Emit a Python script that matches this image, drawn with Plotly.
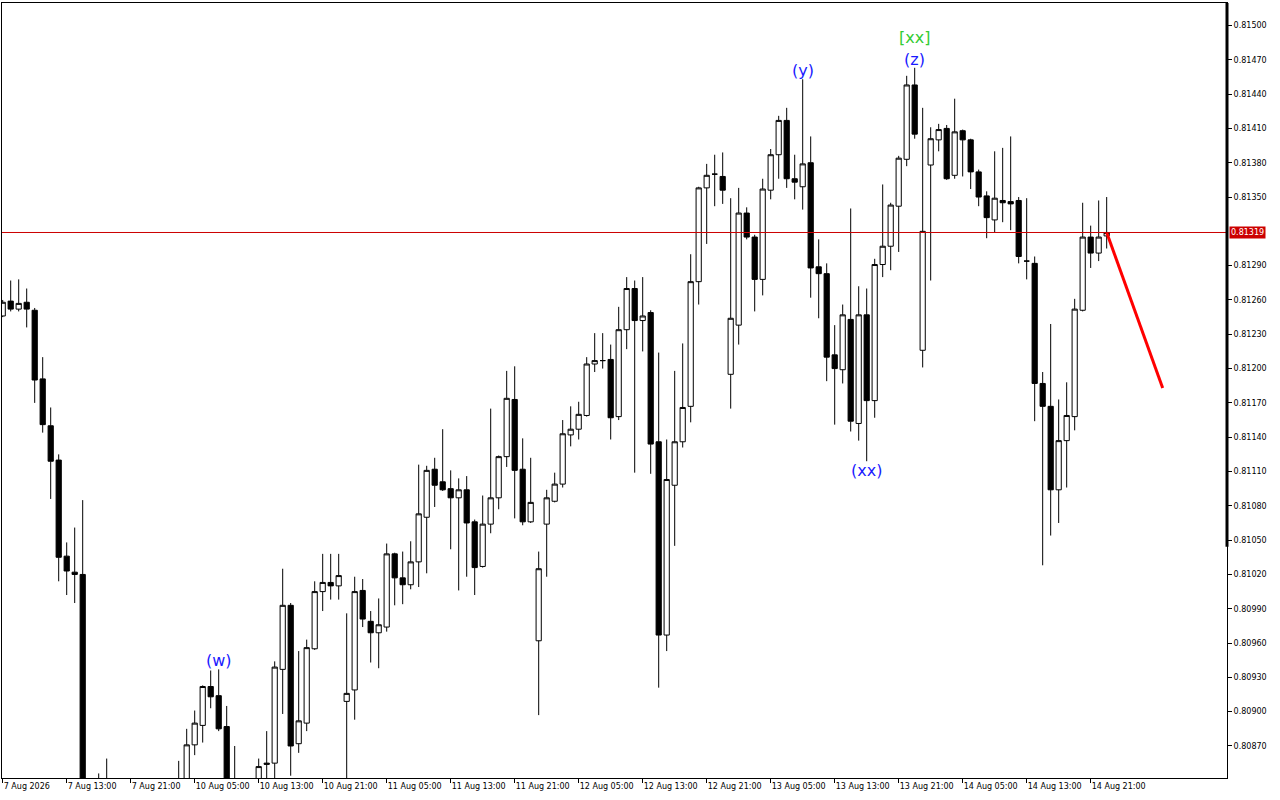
import plotly.graph_objects as go

# ---- data (H1 bars, 7 Aug 2026 05:00 .. 14 Aug 2026 23:00) ----
opens = [0.81246,0.81259,0.81252,0.81258,0.81251,0.81191,0.81150,0.81120,0.81036,0.81022,
         0.81020,0.80815,0.80805,0.80825,0.80820,0.80812,0.80818,0.80815,0.80822,0.80826,
         0.80815,0.80820,0.80825,0.80830,0.80871,0.80888,0.80922,0.80914,0.80887,0.80830,
         0.80825,0.80815,0.80825,0.80855,0.80855,0.80937,0.80993,0.80872,0.80890,0.80955,
         0.81005,0.81013,0.81010,0.80909,0.80919,0.81006,0.80979,0.80969,0.80974,0.81038,
         0.81017,0.81011,0.81031,0.81070,0.81112,0.81101,0.81095,0.81087,0.81094,0.81066,
         0.81027,0.81064,0.81087,0.81123,0.81173,0.81112,0.81066,0.80962,0.81064,0.81084,
         0.81099,0.81142,0.81147,0.81159,0.81204,0.81207,0.81208,0.81158,0.81234,0.81270,
         0.81242,0.81249,0.81136,0.80967,0.81098,0.81136,0.81167,0.81276,0.81358,0.81370,
         0.81368,0.81195,0.81238,0.81336,0.81315,0.81278,0.81356,0.81387,0.81417,0.81366,
         0.81359,0.81380,0.81289,0.81283,0.81212,0.81199,0.81243,0.81152,0.81247,0.81172,
         0.81291,0.81307,0.81342,0.81383,0.81448,0.81216,0.81378,0.81400,0.81410,0.81369,
         0.81408,0.81400,0.81372,0.81351,0.81330,0.81347,0.81346,0.81347,0.81294,0.81292,
         0.81187,0.81167,0.81094,0.81137,0.81158,0.81251,0.81315,0.81301,0.81316]
highs = [0.81260,0.81277,0.81278,0.81270,0.81253,0.81210,0.81166,0.81125,0.81048,0.81061,
         0.81085,0.80835,0.80846,0.80859,0.80838,0.80830,0.80836,0.80832,0.80838,0.80836,
         0.80835,0.80839,0.80857,0.80885,0.80901,0.80923,0.80936,0.80937,0.80905,0.80870,
         0.80838,0.80835,0.80859,0.80883,0.80944,0.81025,0.80995,0.80953,0.80963,0.81014,
         0.81038,0.81038,0.81038,0.80986,0.81018,0.81016,0.80988,0.80999,0.81047,0.81039,
         0.81040,0.81049,0.81116,0.81115,0.81122,0.81147,0.81111,0.81104,0.81106,0.81068,
         0.81089,0.81165,0.81124,0.81198,0.81202,0.81139,0.81122,0.81040,0.81094,0.81109,
         0.81155,0.81167,0.81171,0.81210,0.81231,0.81231,0.81221,0.81254,0.81280,0.81277,
         0.81280,0.81251,0.81214,0.81138,0.81198,0.81222,0.81300,0.81359,0.81379,0.81387,
         0.81389,0.81349,0.81358,0.81341,0.81317,0.81366,0.81392,0.81421,0.81428,0.81387,
         0.81453,0.81403,0.81313,0.81292,0.81238,0.81256,0.81340,0.81272,0.81270,0.81296,
         0.81361,0.81345,0.81386,0.81456,0.81463,0.81428,0.81411,0.81414,0.81413,0.81436,
         0.81409,0.81401,0.81374,0.81355,0.81390,0.81393,0.81403,0.81350,0.81349,0.81298,
         0.81197,0.81239,0.81173,0.81188,0.81261,0.81345,0.81325,0.81347,0.81350]
lows = [0.81245,0.81250,0.81250,0.81236,0.81170,0.81144,0.81086,0.81014,0.81002,0.80995,
        0.80800,0.80790,0.80795,0.80810,0.80805,0.80800,0.80806,0.80798,0.80810,0.80805,
        0.80800,0.80808,0.80800,0.80820,0.80862,0.80873,0.80903,0.80883,0.80815,0.80805,
        0.80800,0.80805,0.80815,0.80830,0.80835,0.80898,0.80844,0.80864,0.80883,0.80954,
        0.80988,0.80998,0.80998,0.80835,0.80893,0.80974,0.80943,0.80938,0.80970,0.80993,
        0.80994,0.81007,0.81009,0.81021,0.81079,0.81093,0.81042,0.81006,0.81018,0.81002,
        0.81026,0.81056,0.81077,0.81114,0.81069,0.81063,0.81065,0.80897,0.81018,0.81083,
        0.81096,0.81132,0.81138,0.81158,0.81197,0.81200,0.81138,0.81155,0.81217,0.81109,
        0.81215,0.81108,0.80921,0.80953,0.81045,0.81131,0.81153,0.81256,0.81309,0.81342,
        0.81344,0.81165,0.81221,0.81313,0.81250,0.81264,0.81348,0.81366,0.81358,0.81348,
        0.81339,0.81262,0.81244,0.81189,0.81151,0.81187,0.81145,0.81137,0.81119,0.81157,
        0.81280,0.81286,0.81302,0.81377,0.81401,0.81201,0.81277,0.81390,0.81365,0.81366,
        0.81368,0.81357,0.81342,0.81314,0.81319,0.81328,0.81321,0.81292,0.81278,0.81154,
        0.81028,0.81054,0.81065,0.81096,0.81146,0.81250,0.81288,0.81294,0.81305]
closes = [0.81258,0.81252,0.81257,0.81252,0.81190,0.81151,0.81119,0.81035,0.81023,0.81020,
          0.80815,0.80805,0.80825,0.80820,0.80812,0.80818,0.80815,0.80822,0.80826,0.80815,
          0.80820,0.80825,0.80830,0.80871,0.80890,0.80922,0.80913,0.80885,0.80830,0.80825,
          0.80815,0.80825,0.80852,0.80854,0.80939,0.80993,0.80870,0.80892,0.80956,0.81005,
          0.81013,0.81010,0.81019,0.80916,0.81005,0.80981,0.80969,0.80976,0.81038,0.81017,
          0.81011,0.81031,0.81073,0.81111,0.81098,0.81094,0.81087,0.81094,0.81065,0.81026,
          0.81064,0.81087,0.81123,0.81174,0.81111,0.81066,0.81083,0.81025,0.81087,0.81099,
          0.81143,0.81147,0.81160,0.81204,0.81207,0.81207,0.81157,0.81234,0.81270,0.81242,
          0.81246,0.81134,0.80967,0.81103,0.81136,0.81166,0.81276,0.81358,0.81369,0.81370,
          0.81356,0.81244,0.81336,0.81315,0.81278,0.81357,0.81387,0.81417,0.81366,0.81363,
          0.81379,0.81288,0.81283,0.81210,0.81200,0.81247,0.81154,0.81247,0.81172,0.81291,
          0.81307,0.81343,0.81384,0.81448,0.81405,0.81320,0.81401,0.81409,0.81366,0.81407,
          0.81400,0.81372,0.81350,0.81332,0.81349,0.81345,0.81344,0.81298,0.81294,0.81187,
          0.81167,0.81094,0.81137,0.81159,0.81252,0.81315,0.81301,0.81315,0.81319]
bars = list(range(len(closes)))

time_tick_bars = [0, 8, 16, 24, 32, 40, 48, 56, 64, 72, 80, 88, 96, 104, 112, 120, 128, 136]
time_tick_labels = ["7 Aug 2026", "7 Aug 13:00", "7 Aug 21:00", "10 Aug 05:00", "10 Aug 13:00",
                    "10 Aug 21:00", "11 Aug 05:00", "11 Aug 13:00", "11 Aug 21:00", "12 Aug 05:00",
                    "12 Aug 13:00", "12 Aug 21:00", "13 Aug 05:00", "13 Aug 13:00", "13 Aug 21:00",
                    "14 Aug 05:00", "14 Aug 13:00", "14 Aug 21:00"]
price_ticks = [0.80870, 0.80900, 0.80930, 0.80960, 0.80990, 0.81020, 0.81050, 0.81080,
               0.81110, 0.81140, 0.81170, 0.81200, 0.81230, 0.81260, 0.81290,
               0.81350, 0.81380, 0.81410, 0.81440, 0.81470, 0.81500]
current_price = 0.81319

wave_labels = ["(w)", "(y)", "(xx)", "(z)", "[xx]"]
wave_bars = [27, 100, 108, 114, 114]
wave_at_high = [True, True, False, True, True]
wave_colors = ["#1A1AFF", "#1A1AFF", "#1A1AFF", "#1A1AFF", "#33CC33"]

forecast_bars = [138, 145]
forecast_prices = [0.81319, 0.81183]

# ---- figure ----
fig = go.Figure()
fig.add_trace(go.Candlestick(
    x=bars, open=opens, high=highs, low=lows, close=closes,
    increasing=dict(line=dict(color="black", width=1), fillcolor="white"),
    decreasing=dict(line=dict(color="black", width=1), fillcolor="black"),
    whiskerwidth=0, showlegend=False, hoverinfo="skip"))
fig.add_trace(go.Scatter(x=forecast_bars, y=forecast_prices, mode="lines",
                         line=dict(color="#FF0000", width=3), showlegend=False,
                         hoverinfo="skip"))

# current price line
fig.add_shape(type="line", xref="paper", x0=0, x1=1, yref="y",
              y0=current_price, y1=current_price,
              line=dict(color="#CC0000", width=1))
# thick segment of the right axis
fig.add_shape(type="line", xref="paper", x0=1, x1=1, yref="paper", y0=0.2985, y1=1,
              line=dict(color="black", width=3))

annotations = []
annotations.append(dict(xref="paper", x=1, xanchor="left", xshift=2, yref="y",
                        y=current_price, yanchor="middle", text="0.81319",
                        showarrow=False, bgcolor="#CC0000", borderpad=1,
                        font=dict(family="DejaVu Sans", size=8, color="white")))
for lab, b, at_high, col in zip(wave_labels, wave_bars, wave_at_high, wave_colors):
    if at_high:
        shift = 19 if lab.startswith("[") else -3
        annotations.append(dict(x=b, y=highs[b], text=lab, showarrow=False,
                                yanchor="bottom", yshift=shift,
                                font=dict(family="DejaVu Sans", size=16, color=col)))
    else:
        annotations.append(dict(x=b, y=lows[b], text=lab, showarrow=False,
                                yanchor="top", yshift=2,
                                font=dict(family="DejaVu Sans", size=16, color=col)))

fig.update_layout(
    width=1280, height=800,
    margin=dict(l=2, r=53, t=3, b=22),
    paper_bgcolor="white", plot_bgcolor="white",
    boxgap=0.35, boxgroupgap=0,
    annotations=annotations,
    font=dict(family="DejaVu Sans", size=8, color="black"),
    xaxis=dict(range=[-0.0875, 153.04], tickmode="array",
               tickvals=time_tick_bars, ticktext=time_tick_labels,
               ticks="outside", ticklen=4, tickcolor="black",
               ticklabelposition="outside right",
               showline=True, linecolor="black", linewidth=1, mirror=True,
               showgrid=False, zeroline=False,
               rangeslider=dict(visible=False),
               tickfont=dict(family="DejaVu Sans", size=8, color="black")),
    yaxis=dict(range=[0.8084201, 0.8151967], side="right", tickmode="array",
               tickvals=price_ticks, tickformat=".5f",
               ticks="outside", ticklen=4, tickcolor="black",
               showline=True, linecolor="black", linewidth=1, mirror=True,
               showgrid=False, zeroline=False,
               tickfont=dict(family="DejaVu Sans", size=8, color="black")),
)

fig.write_html("out.html", config={"displayModeBar": False},
               post_script="document.body.style.margin='0px';document.body.style.overflow='hidden';")
